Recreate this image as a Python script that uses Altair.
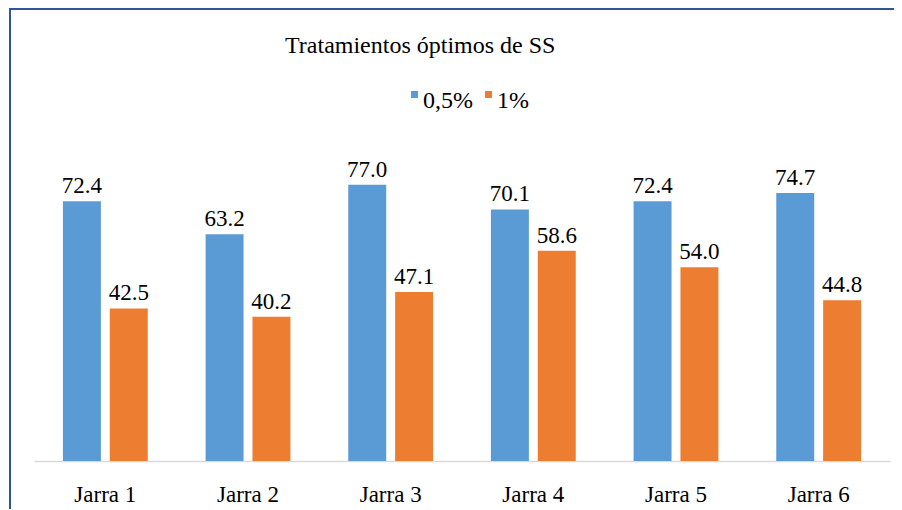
import altair as alt
import pandas as pd

categories = ["Jarra 1", "Jarra 2", "Jarra 3", "Jarra 4", "Jarra 5", "Jarra 6"]
series_names = ["0,5%", "1%"]
values_05 = [72.4, 63.2, 77.0, 70.1, 72.4, 74.7]
values_1 = [42.5, 40.2, 47.1, 58.6, 54.0, 44.8]
colors = ["#5B9BD5", "#ED7D31"]
title_text = "Tratamientos óptimos de SS"

rows = []
for c, a, b in zip(categories, values_05, values_1):
    rows.append({"Jarra": c, "Serie": series_names[0], "Valor": a})
    rows.append({"Jarra": c, "Serie": series_names[1], "Valor": b})
df = pd.DataFrame(rows)

FONT = "Liberation Serif"
BORDER = "#2F5597"

x = alt.X(
    "Jarra:N",
    sort=categories,
    scale=alt.Scale(paddingInner=0, paddingOuter=0),
    axis=alt.Axis(
        title=None, labelAngle=0, ticks=False, tickSize=0, grid=False,
        domainColor="#D9D9D9", domainWidth=1.5,
        labelFont=FONT, labelFontSize=23, labelColor="#000000",
        labelBaseline="alphabetic", labelPadding=40,
    ),
)
xo = alt.XOffset("Serie:N", sort=series_names,
                 scale=alt.Scale(paddingInner=0.19, paddingOuter=0.617))
y = alt.Y("Valor:Q", scale=alt.Scale(domain=[0, 90], nice=False, zero=True), axis=None)
color = alt.Color(
    "Serie:N",
    sort=series_names,
    scale=alt.Scale(domain=series_names, range=colors),
    legend=alt.Legend(
        title=None, orient="none", legendX=365, legendY=-49,
        direction="horizontal",
        symbolType="M0,-2.86H2V-0.86H0Z",
        symbolSize=49, symbolStrokeWidth=0, symbolOpacity=1,
        labelFont=FONT, labelFontSize=24, labelColor="#000000",
        labelOffset=0, columnPadding=0, labelBaseline="middle", padding=0,
    ),
)

base = alt.Chart(df)
bars = base.mark_bar().encode(x=x, xOffset=xo, y=y, color=color)
labels = base.mark_text(baseline="alphabetic", dy=-8, font=FONT, fontSize=23,
                        color="#000000").encode(
    x=x, xOffset=xo, y=y, text=alt.Text("Valor:Q", format=".1f")
)

title = alt.Chart(alt.Data(values=[{"t": title_text}])).mark_text(
    align="left", baseline="alphabetic", font=FONT, fontSize=24, color="#000000"
).encode(x=alt.value(251), y=alt.value(-85), text="t:N")

left_border = alt.Chart(alt.Data(values=[{}])).mark_rule(color=BORDER, strokeWidth=2).encode(
    x=alt.value(-24), y=alt.value(-130), y2=alt.value(380)
)
top_border = alt.Chart(alt.Data(values=[{}])).mark_rule(color=BORDER, strokeWidth=2).encode(
    x=alt.value(-25), x2=alt.value(870), y=alt.value(-129)
)

chart = alt.layer(bars, labels, title, left_border, top_border).properties(
    width=856, height=323,
    autosize=alt.AutoSizeParams(type="none"),
    padding={"left": 26, "top": 130, "right": 4, "bottom": 48},
).configure_view(stroke=None)

chart.save("out.html", embed_options={"renderer": "svg", "actions": False})
